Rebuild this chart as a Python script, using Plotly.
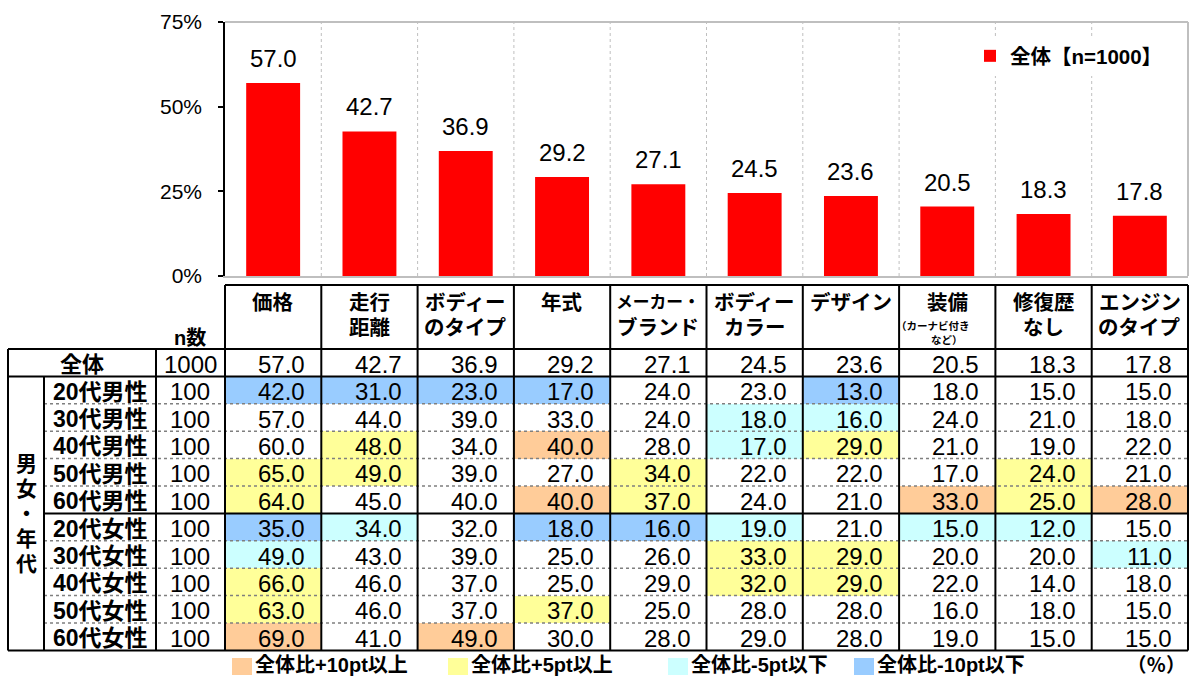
import plotly.graph_objects as go

# ---------------- data ----------------
categories = ["価格", "走行距離", "ボディーのタイプ", "年式", "メーカー・ブランド",
              "ボディーカラー", "デザイン", "装備", "修復歴なし", "エンジンのタイプ"]
header_lines = [["価格"], ["走行", "距離"], ["ボディー", "のタイプ"], ["年式"],
                ["メーカー・", "ブランド"], ["ボディー", "カラー"], ["デザイン"],
                ["装備"], ["修復歴", "なし"], ["エンジン", "のタイプ"]]
equip_note = ["（カーナビ付き", "など）"]
series_name = "全体【n=1000】"
overall_label = "全体"
overall_n = 1000
overall_values = [57.0, 42.7, 36.9, 29.2, 27.1, 24.5, 23.6, 20.5, 18.3, 17.8]

group_label = "男女・年代"
row_labels = ["20代男性", "30代男性", "40代男性", "50代男性", "60代男性",
              "20代女性", "30代女性", "40代女性", "50代女性", "60代女性"]
row_n = [100, 100, 100, 100, 100, 100, 100, 100, 100, 100]
m20 = [42, 31, 23, 17, 24, 23, 13, 18, 15, 15]
m30 = [57, 44, 39, 33, 24, 18, 16, 24, 21, 18]
m40 = [60, 48, 34, 40, 28, 17, 29, 21, 19, 22]
m50 = [65, 49, 39, 27, 34, 22, 22, 17, 24, 21]
m60 = [64, 45, 40, 40, 37, 24, 21, 33, 25, 28]
f20 = [35, 34, 32, 18, 16, 19, 21, 15, 12, 15]
f30 = [49, 43, 39, 25, 26, 33, 29, 20, 20, 11]
f40 = [66, 46, 37, 25, 29, 32, 29, 22, 14, 18]
f50 = [63, 46, 37, 37, 25, 28, 28, 16, 18, 15]
f60 = [69, 41, 49, 30, 28, 29, 28, 19, 15, 15]
row_values = [m20, m30, m40, m50, m60, f20, f30, f40, f50, f60]

y_ticks = [0, 25, 50, 75]
y_tick_text = ["0%", "25%", "50%", "75%"]
n_header = "n数"
legend_labels = ["全体比+10pt以上", "全体比+5pt以上", "全体比-5pt以下", "全体比-10pt以下"]
unit_label = "（％）"

# ---------------- style / layout constants ----------------
W, H = 1190, 677
PLOT_L, PLOT_R, PLOT_T, PLOT_B = 225, 1188, 22, 276
HEAD_T, HEAD_B = 285, 349
ROW_H = 27.4
BODY_T = HEAD_B + ROW_H
BODY_B = BODY_T + ROW_H * len(row_labels)
X_OUT, X_GRP, X_LAB = 8, 44, 156
N_COLS = len(categories)
COL_W = (PLOT_R - PLOT_L) / N_COLS

LEVEL_COLORS = ["#FFFFFF", "#FFCC99", "#FFFF99", "#CCFFFF", "#99CCFF"]
LEGEND_X = [232, 448, 668, 854]
FONT = "Liberation Sans, Noto Sans CJK JP"
BLACK = "#000000"
GRID = "#BFBFBF"
NUM_SIZE = 24


def px(x):
    return x / W


def py(y):
    return 1 - y / H


def col_edge(k):
    return PLOT_L + k * COL_W


def level(v, base):
    d = v - base
    if d >= 10:
        return 1
    if d >= 5:
        return 2
    if d <= -10:
        return 4
    if d <= -5:
        return 3
    return 0


annotations = []
shapes = []


def ann(x, y, text, size, bold=False, xanchor="center", yanchor="middle",
        xref="paper", yref="paper", yshift=0, xshift=0):
    if bold:
        text = "<b>" + text + "</b>"
    annotations.append(dict(x=x, y=y, xref=xref, yref=yref, text=text, showarrow=False,
                            xanchor=xanchor, yanchor=yanchor, yshift=yshift, xshift=xshift,
                            font=dict(family=FONT, size=size, color=BLACK)))


def hline(y, x0, x1, width=2, color=BLACK, dash="solid"):
    shapes.append(dict(type="line", xref="paper", yref="paper", x0=px(x0), x1=px(x1),
                       y0=py(y), y1=py(y), line=dict(color=color, width=width, dash=dash)))


def vline(x, y0, y1, width=2, color=BLACK, dash="solid"):
    shapes.append(dict(type="line", xref="paper", yref="paper", x0=px(x), x1=px(x),
                       y0=py(y0), y1=py(y1), line=dict(color=color, width=width, dash=dash)))


fig = go.Figure()

# ---- bar chart ----
fig.add_trace(go.Bar(x=categories, y=overall_values, width=0.56, name="<b>" + series_name + "</b>",
                     marker=dict(color="#FF0000", line=dict(width=0)), hoverinfo="skip",
                     showlegend=True))
for c, v in zip(categories, overall_values):
    ann(c, v, f"{v:.1f}", 24, xref="x", yref="y", yanchor="bottom", yshift=9)

# vertical dotted gridlines between categories
for k in range(1, N_COLS):
    shapes.append(dict(type="line", xref="x", yref="y", x0=k - 0.5, x1=k - 0.5, y0=0, y1=75,
                       layer="below", line=dict(color=GRID, width=1, dash="dot")))
# plot border (top / right)
hline(PLOT_T, PLOT_L, PLOT_R, width=2, color=GRID)
vline(PLOT_R, PLOT_T, PLOT_B, width=2, color=GRID)

# ---- table cell colours (heatmap on the same category axis) ----
z = [[level(v, b) for v, b in zip(row, overall_values)] for row in row_values]
n_lv = len(LEVEL_COLORS)
cs = []
for i, col in enumerate(LEVEL_COLORS):
    cs.append([i / n_lv, col])
    cs.append([(i + 1) / n_lv, col])
fig.add_trace(go.Heatmap(x=categories, y=list(range(len(row_labels))), z=z,
                         zmin=-0.5, zmax=n_lv - 0.5, colorscale=cs, showscale=False,
                         hoverinfo="skip", xaxis="x", yaxis="y2", xgap=0, ygap=0))

# ---- table grid lines ----
hline(HEAD_T, PLOT_L, PLOT_R)
hline(HEAD_B, X_OUT, PLOT_R)
hline(BODY_T, X_OUT, PLOT_R)
hline(BODY_B, X_OUT, PLOT_R)
for i in range(1, len(row_labels)):
    y = BODY_T + i * ROW_H
    if row_labels[i][-2] != row_labels[i - 1][-2]:
        hline(y, X_GRP, PLOT_R)
    else:
        hline(y, X_GRP, PLOT_R, width=1.5, color="#7F7F7F", dash="dot")
vline(X_OUT, HEAD_B, BODY_B)
vline(X_GRP, BODY_T, BODY_B)
vline(X_LAB, HEAD_B, BODY_B)
for k in range(N_COLS + 1):
    vline(col_edge(k), HEAD_T, BODY_B)

# ---- table headers ----
for k, lines in enumerate(header_lines):
    cx = px(col_edge(k + 0.5))
    for j, line in enumerate(lines):
        size = min(20.5, 84 / len(line))
        ann(cx, py(302 + j * 25), line, size, bold=True)
ke = categories.index("装備")
ann(px(col_edge(ke + 0.5)), py(326), equip_note[0], 10.5, bold=True, xshift=-14)
ann(px(col_edge(ke + 0.5)), py(340), equip_note[1], 10.5, bold=True)
ann(px((X_LAB + PLOT_L) / 2), py(338), n_header, 20, bold=True)

# ---- overall row ----
yc = py(HEAD_B + ROW_H / 2 + 1.5)
ann(px((X_OUT + X_LAB) / 2), yc, overall_label, 22, bold=True)
ann(px((X_LAB + PLOT_L) / 2), yc, str(overall_n), NUM_SIZE)
for k, v in enumerate(overall_values):
    ann(px(col_edge(k + 1) - 14), yc, f"{v:.1f}", NUM_SIZE, xanchor="right")

# ---- body rows ----
for i, (lab, n, row) in enumerate(zip(row_labels, row_n, row_values)):
    yc = py(BODY_T + (i + 0.5) * ROW_H + 1.5)
    ann(px(X_GRP + 7), yc, lab, 23, bold=True, xanchor="left")
    ann(px((X_LAB + PLOT_L) / 2), yc, str(n), NUM_SIZE)
    for k, v in enumerate(row):
        ann(px(col_edge(k + 1) - 14), yc, f"{v:.1f}", NUM_SIZE, xanchor="right")

# vertical group label
mid = (BODY_T + BODY_B) / 2
nch = len(group_label)
for j, ch in enumerate(group_label):
    ann(px((X_OUT + X_GRP) / 2), py(mid + (j - (nch - 1) / 2) * 25), ch, 21, bold=True)

# ---- colour legend under table ----
for lx, lab, col in zip(LEGEND_X, legend_labels, LEVEL_COLORS[1:]):
    shapes.append(dict(type="rect", xref="paper", yref="paper", x0=px(lx), x1=px(lx + 20),
                       y0=py(675), y1=py(658), line=dict(width=0), fillcolor=col))
    ann(px(lx + 21), py(665), lab, 20, bold=True, xanchor="left")
ann(px(1188), py(665), unit_label, 19.5, bold=True, xanchor="right")

fig.update_layout(
    width=W, height=H, margin=dict(l=0, r=0, t=0, b=0, autoexpand=False),
    paper_bgcolor="white", plot_bgcolor="white",
    showlegend=True,
    legend=dict(x=px(970), y=py(36), xanchor="left", yanchor="top", bgcolor="white",
                font=dict(family=FONT, size=20.5, color=BLACK), borderwidth=0),
    xaxis=dict(domain=[px(PLOT_L), px(PLOT_R)], range=[-0.5, N_COLS - 0.5], type="category",
               showticklabels=False, ticks="", showgrid=False, zeroline=False,
               showline=True, linecolor=GRID, linewidth=2, fixedrange=True, automargin=False),
    yaxis=dict(domain=[py(PLOT_B), py(PLOT_T)], range=[0, 75], tickmode="array",
               tickvals=y_ticks, ticktext=y_tick_text, showgrid=False, zeroline=False,
               showline=True, linecolor=BLACK, linewidth=1.5, ticks="outside", ticklen=5,
               tickcolor=BLACK, tickwidth=1.5, ticklabelstandoff=12, automargin=False,
               tickfont=dict(family=FONT, size=21, color=BLACK), fixedrange=True),
    yaxis2=dict(domain=[py(BODY_B), py(BODY_T)], range=[len(row_labels) - 0.5, -0.5],
                anchor="x", visible=False, showgrid=False, zeroline=False, fixedrange=True),
    shapes=shapes, annotations=annotations,
)

fig.write_html("out.html", config={"displayModeBar": False},
               post_script="document.body.style.margin='0';document.body.style.overflow='hidden';")
